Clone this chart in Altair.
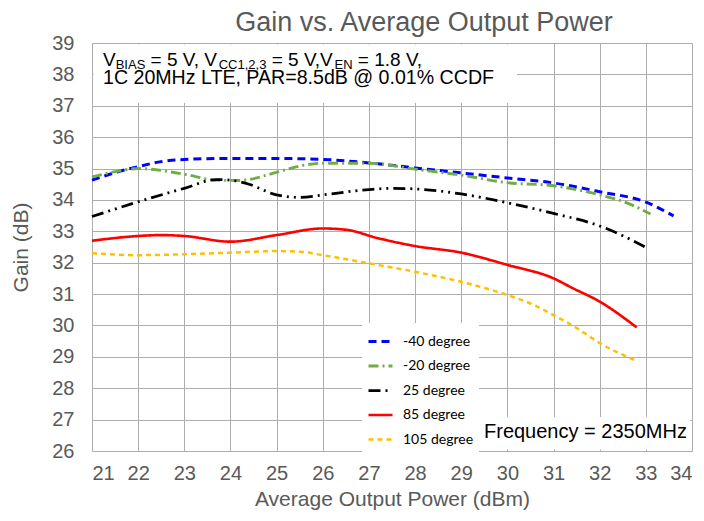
import altair as alt
import pandas as pd

series = ["-40 degree", "-20 degree", "25 degree", "85 degree", "105 degree"]

x_m40 = [21, 21.5, 22, 22.5, 23, 24, 25, 26, 27, 28, 29, 30, 31, 32, 33, 33.6]
y_m40 = [34.63, 34.87, 35.06, 35.22, 35.29, 35.32, 35.32, 35.29, 35.18, 35.02, 34.86, 34.70, 34.54, 34.26, 33.93, 33.49]

x_m20 = [21, 21.5, 22, 23, 23.7, 24.2, 25, 25.5, 26, 27, 28, 29, 30, 31, 32, 32.6, 33.1]
y_m20 = [34.73, 34.90, 35.00, 34.82, 34.63, 34.62, 34.88, 35.08, 35.17, 35.17, 34.98, 34.79, 34.55, 34.45, 34.16, 33.90, 33.55]

x_25 = [21, 22, 23, 23.7, 24, 24.4, 25, 25.5, 26, 27, 27.5, 28, 29, 30, 31, 32, 32.6, 33.05]
y_25 = [33.47, 33.94, 34.37, 34.65, 34.63, 34.50, 34.16, 34.08, 34.16, 34.33, 34.37, 34.35, 34.19, 33.91, 33.57, 33.17, 32.79, 32.45]

x_85 = [21, 22, 22.5, 23, 24, 25, 26, 26.5, 27.2, 28, 29, 30, 31, 31.4, 32, 32.8]
y_85 = [32.70, 32.85, 32.88, 32.85, 32.67, 32.88, 33.09, 33.05, 32.78, 32.53, 32.32, 31.93, 31.50, 31.20, 30.76, 29.94]

x_105 = [21, 22, 23, 24, 25, 25.5, 26, 27, 28, 29, 30, 30.5, 31, 31.5, 32, 32.8]
y_105 = [32.30, 32.24, 32.27, 32.32, 32.37, 32.35, 32.24, 31.98, 31.71, 31.39, 30.97, 30.70, 30.33, 29.92, 29.44, 28.87]

x_ticks = list(range(21, 35))
y_ticks = list(range(26, 40))

rows = []
for name, xs, ys in zip(series, [x_m40, x_m20, x_25, x_85, x_105], [y_m40, y_m20, y_25, y_85, y_105]):
    for a, b in zip(xs, ys):
        rows.append({"series": name, "power": a, "gain": b})
df = pd.DataFrame(rows)

colors = ["#0000FF", "#70AD47", "#000000", "#FF0000", "#FFC000"]
dashes = [[8, 5], [10, 4, 2, 4], [12, 5, 2, 5, 2, 5], [1, 0], [5, 4]]
widths = [3, 2.5, 2.5, 2.5, 2.2]

GRAY = "#595959"
FONT = "Liberation Sans"
W, H = 600, 408

legend = alt.Legend(
    title=None, orient="none", legendX=270, legendY=280, fillColor="white",
    padding=5, symbolType="stroke", symbolSize=576, symbolStrokeWidth=2.5,
    labelFont="Lato", labelFontSize=14, labelColor="#000000", labelOffset=9,
    rowPadding=3.5, labelLimit=200,
)

lines = alt.Chart(df).mark_line(interpolate="monotone").encode(
    x=alt.X("power:Q", scale=alt.Scale(domain=[21, 34], nice=False),
            axis=alt.Axis(values=x_ticks, title="Average Output Power (dBm)", format="d",
                          labelFontSize=20, labelColor=GRAY, labelFont=FONT, labelPadding=12,
                          titleFontSize=21, titleColor=GRAY, titleFont=FONT, titleFontWeight="normal",
                          titlePadding=5, ticks=False, domain=False, gridColor="#ADADAD", gridWidth=1)),
    y=alt.Y("gain:Q", scale=alt.Scale(domain=[26, 39], nice=False),
            axis=alt.Axis(values=y_ticks, title="Gain (dB)", format="d",
                          labelFontSize=20, labelColor=GRAY, labelFont=FONT, labelPadding=18,
                          titleFontSize=21, titleColor=GRAY, titleFont=FONT, titleFontWeight="normal",
                          titlePadding=20, ticks=False, domain=False, gridColor="#ADADAD", gridWidth=1)),
    color=alt.Color("series:N", sort=series, scale=alt.Scale(domain=series, range=colors), legend=legend),
    strokeDash=alt.StrokeDash("series:N", sort=series, scale=alt.Scale(domain=series, range=dashes), legend=legend),
    strokeWidth=alt.StrokeWidth("series:N", scale=alt.Scale(domain=series, range=widths), legend=None),
)

one = pd.DataFrame({"k": [0]})

box1 = alt.Chart(one).mark_rect(color="white").encode(
    x=alt.value(1.5), x2=alt.value(425), y=alt.value(1.5), y2=alt.value(60))
box2 = alt.Chart(one).mark_rect(color="white").encode(
    x=alt.value(384), x2=alt.value(598.5), y=alt.value(374), y2=alt.value(406.5))

# Arial-like advance widths (per 1000 em) for laying out the subscripted annotation
adv = {' ': 278, '=': 584, ',': 278, '.': 278, '1': 556, '2': 556, '3': 556, '5': 556,
       '8': 556, 'V': 667, 'B': 667, 'I': 278, 'A': 667, 'S': 667, 'C': 722, 'E': 667, 'N': 722}

MAIN, SUB = 19, 13
segments = [("V", False), ("BIAS", True), (" = 5 V, V", False), ("CC1,2,3", True),
            (" = 5 V,V", False), ("EN", True), (" = 1.8 V,", False)]

texts = []
cx = 11.0
base1 = 22.5
for seg, is_sub in segments:
    fs = SUB if is_sub else MAIN
    lead = len(seg) - len(seg.lstrip(' '))
    start = cx + sum(adv[c] for c in seg[:lead]) * fs / 1000
    texts.append(alt.Chart(one).mark_text(
        text=seg.strip(), align="left", baseline="alphabetic", font=FONT, fontSize=fs, color="black"
    ).encode(x=alt.value(start), y=alt.value(base1 + (3 if is_sub else 0))))
    cx += sum(adv[c] for c in seg) * fs / 1000

texts.append(alt.Chart(one).mark_text(
    text="1C 20MHz LTE, PAR=8.5dB @ 0.01% CCDF", align="left", baseline="alphabetic",
    font=FONT, fontSize=19.6, color="black").encode(x=alt.value(11), y=alt.value(40.5)))

texts.append(alt.Chart(one).mark_text(
    text="Frequency = 2350MHz", align="left", baseline="alphabetic",
    font=FONT, fontSize=20, color="black").encode(x=alt.value(392), y=alt.value(395)))

chart = alt.layer(lines, box1, box2, *texts).properties(
    width=W, height=H,
    title=alt.Title("Gain vs. Average Output Power", fontSize=27, color=GRAY, font=FONT,
                    fontWeight="normal", anchor="middle", offset=-4, dx=32),
    autosize=alt.AutoSizeParams(type="none"),
    padding={"left": 84, "top": 35, "right": 4, "bottom": 60},
).configure_view(stroke="black", strokeWidth=3).configure(background="white")

chart.save("out.html", embed_options={"renderer": "svg", "actions": False})
